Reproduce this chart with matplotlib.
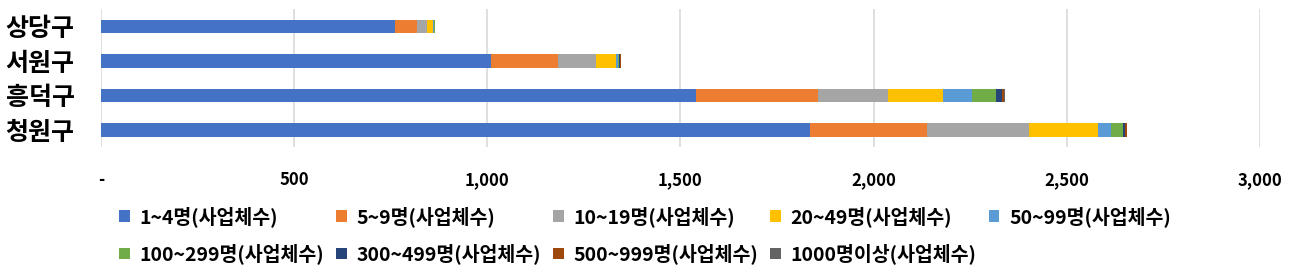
import numpy as np
from matplotlib import pyplot as plt
from matplotlib.patches import Patch
from matplotlib.ticker import FuncFormatter

plt.rcParams['font.family'] = ['Noto Sans CJK KR', 'DejaVu Sans']

# districts, top to bottom
districts = ['상당구', '서원구', '흥덕구', '청원구']

# number of businesses per size class
size_1_4 = [762, 1010, 1541, 1834]
size_5_9 = [57, 174, 314, 303]
size_10_19 = [26, 98, 181, 265]
size_20_49 = [14, 50, 143, 178]
size_50_99 = [2, 7, 75, 34]
size_100_299 = [3, 3, 62, 31]
size_300_499 = [1, 2, 16, 5]
size_500_999 = [0, 1, 5, 5]
size_1000_up = [0, 0, 2, 2]

series_labels = ['1~4명(사업체수)', '5~9명(사업체수)', '10~19명(사업체수)', '20~49명(사업체수)',
                 '50~99명(사업체수)', '100~299명(사업체수)', '300~499명(사업체수)',
                 '500~999명(사업체수)', '1000명이상(사업체수)']
colors = ['#4472C4', '#ED7D31', '#A5A5A5', '#FFC000', '#5B9BD5',
          '#70AD47', '#264478', '#9E480E', '#636363']

series = [size_1_4, size_5_9, size_10_19, size_20_49, size_50_99,
          size_100_299, size_300_499, size_500_999, size_1000_up]

fig = plt.figure(figsize=(13.07, 2.77), dpi=100)
ax = fig.add_axes([0.0773, 0.4684, 0.8867, 0.4982])

y = np.arange(len(districts))
left = np.zeros(len(districts))
for vals, lab, col in zip(series, series_labels, colors):
    ax.barh(y, vals, left=left, height=0.4, color=col, label=lab, zorder=3)
    left += np.array(vals)

ax.set_ylim(-0.5, len(districts) - 0.5)
ax.invert_yaxis()
ax.set_yticks(y)
ax.set_yticklabels(districts, fontsize=18, fontweight='bold')
ax.set_xlim(0, 3000)
ax.set_xticks(np.arange(0, 3001, 500))
ax.xaxis.set_major_formatter(FuncFormatter(lambda v, p: '-' if v == 0 else f'{int(v):,}'))
for t in ax.get_xticklabels():
    t.set_fontsize(12)
    t.set_fontweight('bold')
ax.tick_params(axis='x', length=0, pad=17, colors='#000000')
ax.tick_params(axis='y', length=0, pad=19)
ax.grid(axis='x', color='#D9D9D9', linewidth=1.2, zorder=0)
for s in ax.spines.values():
    s.set_visible(False)

# legend fills column by column, so reorder to get row-wise layout like the original
order = [0, 5, 1, 6, 2, 7, 3, 8, 4]
handles = [Patch(facecolor=colors[i], edgecolor='none') for i in order]
labels = [series_labels[i] for i in order]
fig.legend(handles, labels, loc='upper left', bbox_to_anchor=(119 / 1307, 1 - 206 / 277),
           ncol=5, frameon=False, borderpad=0, borderaxespad=0,
           handlelength=0.55, handleheight=0.55, handletextpad=0.5, columnspacing=0.62,
           labelspacing=0.85, prop={'size': 14, 'weight': 'bold'})

plt.savefig('out.png', dpi=100)
plt.close()
